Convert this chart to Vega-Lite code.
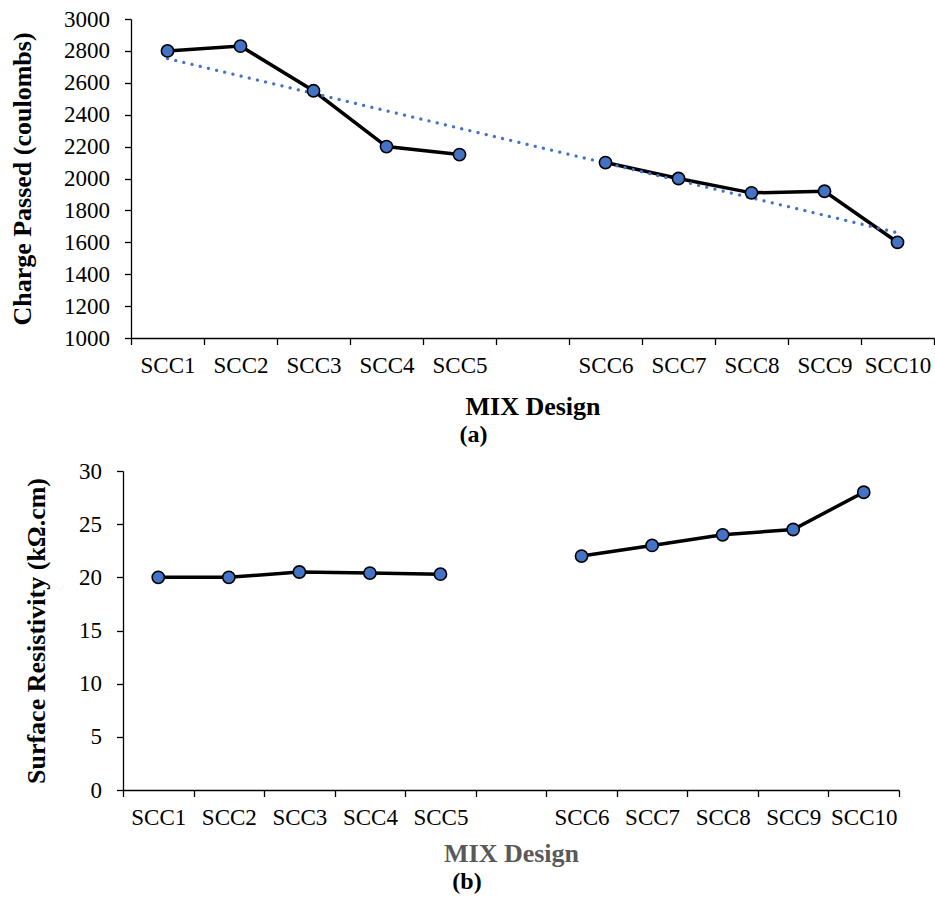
{
  "$schema": "https://vega.github.io/schema/vega-lite/v6.json",
  "padding": {"left": 9, "top": 8, "right": 0, "bottom": 5},
  "background": "white",
  "datasets": {
    "a": [
      {"cat": "SCC1", "pos": 1, "grp": 1, "val": 2800},
      {"cat": "SCC2", "pos": 2, "grp": 1, "val": 2830},
      {"cat": "SCC3", "pos": 3, "grp": 1, "val": 2550},
      {"cat": "SCC4", "pos": 4, "grp": 1, "val": 2200},
      {"cat": "SCC5", "pos": 5, "grp": 1, "val": 2150},
      {"cat": "SCC6", "pos": 7, "grp": 2, "val": 2100},
      {"cat": "SCC7", "pos": 8, "grp": 2, "val": 2000},
      {"cat": "SCC8", "pos": 9, "grp": 2, "val": 1910},
      {"cat": "SCC9", "pos": 10, "grp": 2, "val": 1920},
      {"cat": "SCC10", "pos": 11, "grp": 2, "val": 1600}
    ],
    "b": [
      {"cat": "SCC1", "grp": 1, "val": 20.0},
      {"cat": "SCC2", "grp": 1, "val": 20.0},
      {"cat": "SCC3", "grp": 1, "val": 20.5},
      {"cat": "SCC4", "grp": 1, "val": 20.4},
      {"cat": "SCC5", "grp": 1, "val": 20.3},
      {"cat": "SCC6", "grp": 2, "val": 22.0},
      {"cat": "SCC7", "grp": 2, "val": 23.0},
      {"cat": "SCC8", "grp": 2, "val": 24.0},
      {"cat": "SCC9", "grp": 2, "val": 24.5},
      {"cat": "SCC10", "grp": 2, "val": 28.0}
    ]
  },
  "config": {
    "font": "Liberation Serif",
    "view": {"stroke": null},
    "axis": {
      "labelFont": "Liberation Serif",
      "labelFontSize": 23,
      "labelColor": "black",
      "titleFont": "Liberation Serif",
      "titleFontSize": 26,
      "titleFontWeight": "bold",
      "titleColor": "black",
      "domainColor": "black",
      "tickColor": "black",
      "domainWidth": 1.3,
      "tickWidth": 1.3,
      "tickSize": 6.5,
      "grid": false
    },
    "title": {"font": "Liberation Serif", "fontSize": 24, "fontWeight": "bold", "color": "black"},
    "concat": {"spacing": 13}
  },
  "vconcat": [
    {
      "width": 811,
      "height": 319,
      "data": {"name": "a"},
      "title": {"text": "(a)", "orient": "bottom", "offset": 3, "dx": -55},
      "encoding": {
        "x": {
          "field": "cat",
          "type": "nominal",
          "scale": {"domain": ["SCC1", "SCC2", "SCC3", "SCC4", "SCC5", " ", "SCC6", "SCC7", "SCC8", "SCC9", "SCC10"], "range": [8, 811], "paddingInner": 0, "paddingOuter": 0},
          "axis": {"title": "MIX Design", "labelAngle": 0, "tickBand": "extent", "labelPadding": 10, "titlePadding": 16}
        },
        "y": {
          "field": "val",
          "type": "quantitative",
          "scale": {"domain": [1000, 3000], "nice": false},
          "axis": {"title": "Charge Passed (coulombs)", "offset": -8, "format": "d", "values": [1000, 1200, 1400, 1600, 1800, 2000, 2200, 2400, 2600, 2800, 3000], "labelPadding": 15, "titlePadding": 28}
        }
      },
      "layer": [
        {
          "mark": {"type": "line", "color": "black", "strokeWidth": 3.5},
          "encoding": {"detail": {"field": "grp", "type": "nominal"}}
        },
        {
          "transform": [
            {"regression": "val", "on": "pos", "extent": [1, 11]},
            {"lookup": "pos", "from": {"data": {"name": "a"}, "key": "pos", "fields": ["cat"]}}
          ],
          "mark": {"type": "line", "color": "#4472C4", "strokeWidth": 3.2, "strokeDash": [0.1, 8.3], "strokeCap": "round"},
          "encoding": {}
        },
        {
          "mark": {"type": "circle", "color": "#4472C4", "stroke": "black", "strokeWidth": 1.6, "size": 150, "opacity": 1},
          "encoding": {}
        }
      ]
    },
    {
      "width": 776,
      "height": 319,
      "data": {"name": "b"},
      "title": {"text": "(b)", "orient": "bottom", "offset": 3, "dx": -44},
      "encoding": {
        "x": {
          "field": "cat",
          "type": "nominal",
          "scale": {"domain": ["SCC1", "SCC2", "SCC3", "SCC4", "SCC5", " ", "SCC6", "SCC7", "SCC8", "SCC9", "SCC10"], "paddingInner": 0, "paddingOuter": 0},
          "axis": {"title": "MIX Design", "titleColor": "#595959", "labelAngle": 0, "tickBand": "extent", "labelPadding": 10, "titlePadding": 11}
        },
        "y": {
          "field": "val",
          "type": "quantitative",
          "scale": {"domain": [0, 30], "nice": false},
          "axis": {"title": "Surface Resistivity (kΩ.cm)", "values": [0, 5, 10, 15, 20, 25, 30], "labelPadding": 15, "titlePadding": 29}
        }
      },
      "layer": [
        {
          "mark": {"type": "line", "color": "black", "strokeWidth": 3.5},
          "encoding": {"detail": {"field": "grp", "type": "nominal"}}
        },
        {
          "mark": {"type": "circle", "color": "#4472C4", "stroke": "black", "strokeWidth": 1.6, "size": 150, "opacity": 1},
          "encoding": {}
        }
      ]
    }
  ]
}
